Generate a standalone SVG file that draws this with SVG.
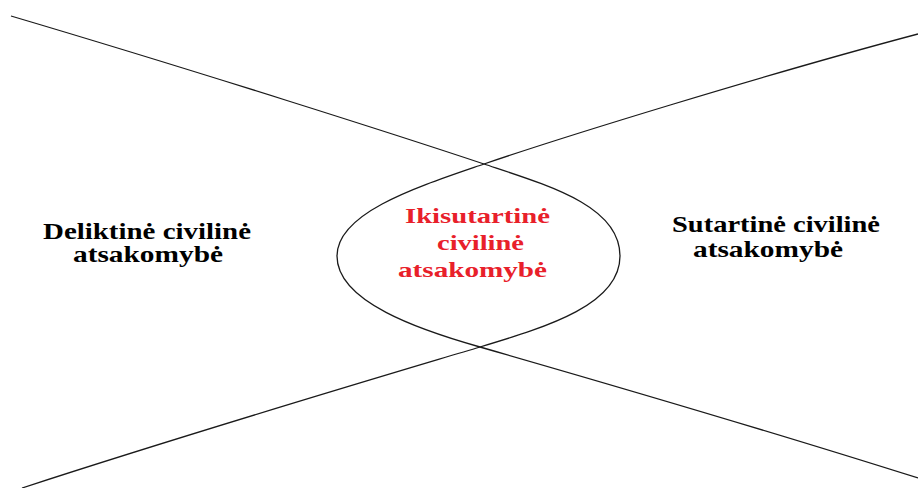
<svg xmlns="http://www.w3.org/2000/svg" width="918" height="488" viewBox="0 0 918 488">
<style>
.c{fill:none;stroke:#1a1a1a;stroke-width:1.3}
.t{font-family:"Liberation Serif","Times New Roman",serif;font-weight:bold;font-size:23px;fill:#000}
.r{fill:#e8202a;font-size:22px}
</style>
<rect width="918" height="488" fill="#fff"/>
<g id="connectors">
<path class="c" d="M11,16 C200,72 400,136 484,164 C550,186 620,206 620,256 C620,304 550,326 480,347 C390,374 200,430 22,488"/>
<path class="c" d="M918,34 C760,76 560,138 484,164 C420,186 337,212 337,256 C337,302 420,330 480,347 C560,370 760,428 918,478"/>
</g>
<g id="left">
<text class="t" x="43" y="239" textLength="208" lengthAdjust="spacingAndGlyphs">Deliktinė civilinė</text>
<text class="t" x="73" y="262" textLength="150" lengthAdjust="spacingAndGlyphs">atsakomybė</text>
</g>
<g id="center">
<text class="t r" x="405" y="223" textLength="145" lengthAdjust="spacingAndGlyphs">Ikisutartinė</text>
<text class="t r" x="437" y="250" textLength="87" lengthAdjust="spacingAndGlyphs">civilinė</text>
<text class="t r" x="398" y="277" textLength="149" lengthAdjust="spacingAndGlyphs">atsakomybė</text>
</g>
<g id="right">
<text class="t" x="672" y="232" textLength="208" lengthAdjust="spacingAndGlyphs">Sutartinė civilinė</text>
<text class="t" x="693" y="257" textLength="150" lengthAdjust="spacingAndGlyphs">atsakomybė</text>
</g>
</svg>
